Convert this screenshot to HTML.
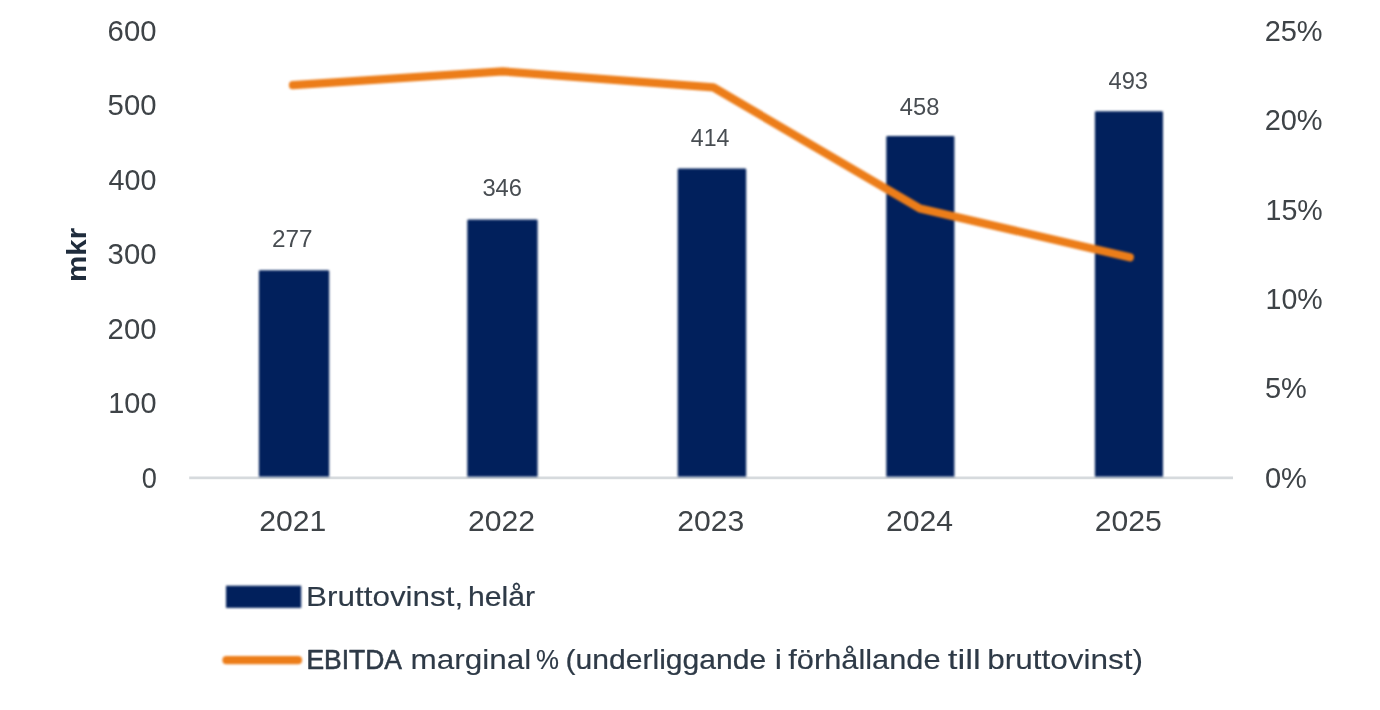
<!DOCTYPE html>
<html lang="sv">
<head>
<meta charset="utf-8">
<title>Bruttovinst och EBITDA marginal</title>
<style>
  html, body { margin: 0; padding: 0; background: #ffffff; }
  body { width: 1380px; height: 710px; overflow: hidden; }
  svg { display: block; }
  .soft { filter: blur(0.8px); }
  text { font-family: "Liberation Sans", Arial, sans-serif; }
  .ax   { font-size: 30px; fill: #3e4347; }
  .val  { font-size: 24.8px; fill: #484d52; }
  .leg  { font-size: 27.8px; fill: #2e3a47; stroke: #2e3a47; stroke-linejoin: round; }
  .ylab { font-size: 27.6px; font-weight: bold; fill: #1f2c3c; }
</style>
</head>
<body>
<svg width="1380" height="710" viewBox="0 0 1380 710">
  <rect x="0" y="0" width="1380" height="710" fill="#ffffff"/>

  <!-- y axis title -->
  <text class="ylab" transform="translate(86.3 282.0) rotate(-90)" textLength="54.2" lengthAdjust="spacingAndGlyphs">mkr</text>

  <!-- baseline -->
  <rect x="189.2" y="476.5" width="1043.8" height="2.7" fill="#d6dadd"/>

  <g class="soft">
  <!-- bars -->
  <g fill="#01205c">
    <path d="M258.9 476.7V271.4Q258.9 270.2 260.1 270.2H328.0Q329.2 270.2 329.2 271.4V476.7Z"/>
    <path d="M467.3 476.7V220.7Q467.3 219.5 468.5 219.5H536.4Q537.6 219.5 537.6 220.7V476.7Z"/>
    <path d="M677.7 476.7V169.7Q677.7 168.5 678.9 168.5H745.0Q746.2 168.5 746.2 169.7V476.7Z"/>
    <path d="M886.3 476.7V137.1Q886.3 135.9 887.5 135.9H953.2Q954.4 135.9 954.4 137.1V476.7Z"/>
    <path d="M1094.9 476.7V112.5Q1094.9 111.3 1096.1 111.3H1161.8Q1163.0 111.3 1163.0 112.5V476.7Z"/>
  </g>

  <!-- line -->
  <polyline points="293,85.2 502.6,71.4 713.4,87.4 919.9,208.5 1129.8,257.3"
            fill="none" stroke="#ec7d19" stroke-width="8.2" stroke-linecap="round" stroke-linejoin="round"/>

  <!-- legend swatches -->
  <rect x="226" y="585.7" width="75.2" height="22.2" fill="#01205c"/>
  <line x1="226.5" y1="660.2" x2="298" y2="660.2" stroke="#ec7d19" stroke-width="8.2" stroke-linecap="round"/>

  </g>

  <!-- all text labels -->
  <g>
    <text class="ax" x="107.62" y="40.7" textLength="48.84" lengthAdjust="spacingAndGlyphs">600</text>
    <text class="ax" x="107.62" y="115.2" textLength="48.84" lengthAdjust="spacingAndGlyphs">500</text>
    <text class="ax" x="108.60" y="189.7" textLength="47.85" lengthAdjust="spacingAndGlyphs">400</text>
    <text class="ax" x="107.62" y="264.2" textLength="48.84" lengthAdjust="spacingAndGlyphs">300</text>
    <text class="ax" x="107.62" y="338.7" textLength="48.84" lengthAdjust="spacingAndGlyphs">200</text>
    <text class="ax" x="108.27" y="413.2" textLength="48.18" lengthAdjust="spacingAndGlyphs">100</text>
    <text class="ax" x="141.69" y="487.7" textLength="15.13" lengthAdjust="spacingAndGlyphs">0</text>
    <text class="ax" x="1264.63" y="40.7" textLength="58.02" lengthAdjust="spacingAndGlyphs">25%</text>
    <text class="ax" x="1264.63" y="130.1" textLength="58.02" lengthAdjust="spacingAndGlyphs">20%</text>
    <text class="ax" x="1265.50" y="219.5" textLength="57.15" lengthAdjust="spacingAndGlyphs">15%</text>
    <text class="ax" x="1265.50" y="308.9" textLength="57.15" lengthAdjust="spacingAndGlyphs">10%</text>
    <text class="ax" x="1264.93" y="398.3" textLength="41.92" lengthAdjust="spacingAndGlyphs">5%</text>
    <text class="ax" x="1264.93" y="487.7" textLength="41.92" lengthAdjust="spacingAndGlyphs">0%</text>
    <text class="ax" x="259.35" y="531.2" textLength="66.99" lengthAdjust="spacingAndGlyphs">2021</text>
    <text class="ax" x="467.95" y="531.2" textLength="66.99" lengthAdjust="spacingAndGlyphs">2022</text>
    <text class="ax" x="677.35" y="531.2" textLength="66.99" lengthAdjust="spacingAndGlyphs">2023</text>
    <text class="ax" x="885.95" y="531.2" textLength="66.99" lengthAdjust="spacingAndGlyphs">2024</text>
    <text class="ax" x="1094.85" y="531.2" textLength="66.99" lengthAdjust="spacingAndGlyphs">2025</text>
    <text class="val" x="271.92" y="247.3" textLength="40.56" lengthAdjust="spacingAndGlyphs">277</text>
    <text class="val" x="482.40" y="196.4" textLength="39.56" lengthAdjust="spacingAndGlyphs">346</text>
    <text class="val" x="690.80" y="145.5" textLength="38.60" lengthAdjust="spacingAndGlyphs">414</text>
    <text class="val" x="899.80" y="115.4" textLength="39.56" lengthAdjust="spacingAndGlyphs">458</text>
    <text class="val" x="1108.50" y="88.7" textLength="39.56" lengthAdjust="spacingAndGlyphs">493</text>
    <text class="leg" y="606.4"><tspan x="306.04" textLength="157.21" lengthAdjust="spacingAndGlyphs" stroke-width="0.12">Bruttovinst,</tspan> <tspan x="468.02" textLength="67.06" lengthAdjust="spacingAndGlyphs" stroke-width="0.23">helår</tspan></text>
    <text class="leg" y="669.2"><tspan x="306.42" textLength="94.14" lengthAdjust="spacingAndGlyphs" stroke-width="0.61">EBITDA</tspan> <tspan x="410.57" textLength="120.76" lengthAdjust="spacingAndGlyphs" stroke-width="0.11">marginal</tspan> <tspan x="536.00" textLength="22.97" lengthAdjust="spacingAndGlyphs" stroke-width="0.20">%</tspan> <tspan x="565.62" textLength="200.58" lengthAdjust="spacingAndGlyphs" stroke-width="0.24">(underliggande</tspan> <tspan x="774.83" textLength="7.26" lengthAdjust="spacingAndGlyphs" stroke-width="0.10">i</tspan> <tspan x="788.30" textLength="152.21" lengthAdjust="spacingAndGlyphs" stroke-width="0.18">förhållande</tspan> <tspan x="947.70" textLength="33.08" lengthAdjust="spacingAndGlyphs" stroke-width="0.10">till</tspan> <tspan x="987.17" textLength="155.96" lengthAdjust="spacingAndGlyphs" stroke-width="0.11">bruttovinst)</tspan></text>
  </g>
</svg>
</body>
</html>
